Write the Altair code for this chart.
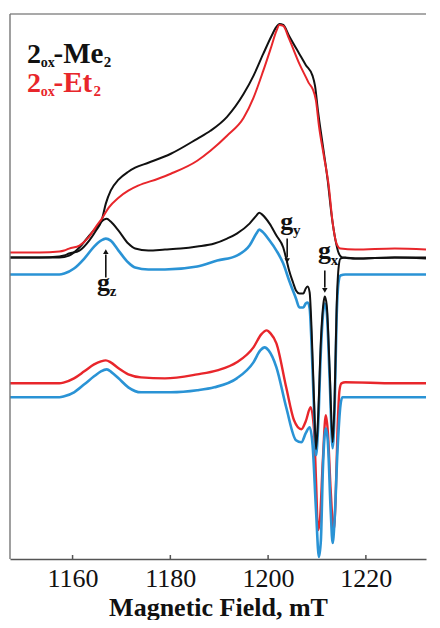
import altair as alt
import pandas as pd

X_DOMAIN = [1147.2, 1232.3]
Y_DOMAIN = [0, 546]
X_TICKS = [1160, 1180, 1200, 1220]

# --- 2ox-Me2 absorption (black, top)
me2_abs_x = [1147.2, 1153.3, 1157.3, 1158.3, 1159.3, 1161.4, 1163.4, 1164.8, 1166.0, 1166.8,
             1167.8, 1169.4, 1171.4, 1172.8, 1175.5, 1180.1, 1185.5, 1188.2, 1191.6, 1195.0,
             1197.0, 1199.0, 1200.7, 1201.7, 1202.3, 1203.1, 1204.3, 1206.4, 1207.7, 1209.1,
             1209.6, 1210.2, 1211.2, 1212.2, 1213.0, 1213.8, 1214.4, 1215.2, 1217.8, 1225.9, 1232.3]
me2_abs_y = [302, 302, 303, 304, 306, 309, 319, 329, 340, 356,
             369, 380, 388, 392, 397, 406, 421, 429, 443, 466,
             484, 506, 524, 533, 536, 535, 524, 506, 495, 484,
             474, 449, 414, 379, 344, 319, 307, 302, 301, 302, 301]

# --- 2ox-Et2 absorption (red, top)
et2_abs_x = [1147.2, 1153.3, 1157.3, 1158.3, 1159.3, 1161.4, 1163.4, 1164.8, 1166.0, 1167.4,
             1169.4, 1171.4, 1173.4, 1177.5, 1180.1, 1185.5, 1188.2, 1191.6, 1195.0, 1197.0,
             1199.0, 1200.7, 1201.7, 1202.3, 1203.1, 1204.3, 1206.4, 1207.7, 1208.3, 1209.1,
             1209.8, 1210.4, 1211.4, 1212.4, 1213.2, 1214.0, 1214.8, 1217.8, 1225.9, 1232.3]
et2_abs_y = [307, 307, 308, 309, 311, 314, 323, 333, 341, 352,
             362, 369, 374, 381, 386, 399, 409, 424, 442, 462,
             489, 514, 529, 535, 534, 521, 496, 483, 477, 471,
             459, 434, 404, 374, 337, 316, 311, 310, 311, 310]

# --- 2ox-Me2 experimental derivative-like spectrum (black, middle)
me2_exp_x = [1147.2, 1153.3, 1157.3, 1159.3, 1161.4, 1163.4, 1165.4, 1166.4, 1167.0, 1167.8,
             1169.4, 1171.4, 1172.8, 1175.5, 1178.9, 1182.1, 1185.5, 1189.0, 1191.6, 1193.6,
             1196.2, 1197.6, 1198.2, 1198.8, 1200.3, 1201.7, 1203.1, 1203.7, 1204.3, 1205.1,
             1205.7, 1206.4, 1207.2, 1207.7, 1208.1, 1208.5, 1208.9, 1209.4, 1209.8, 1210.2,
             1210.8, 1211.4, 1211.6, 1212.0, 1212.6, 1213.2, 1213.6, 1214.0, 1214.4, 1214.8,
             1215.8, 1217.8, 1225.9, 1232.3]
me2_exp_y = [302, 302, 302, 304, 312, 324, 335, 340, 341, 338,
             329, 316, 311, 309, 310, 311, 313, 316, 321, 326,
             336, 344, 347, 345, 336, 324, 312, 301, 289, 277,
             269, 266, 266, 271, 273, 267, 229, 159, 110, 139,
             219, 259, 263, 254, 189, 117, 159, 249, 291, 301,
             302, 301, 302, 302]

# --- 2ox-Me2 simulation (blue, middle)
me2_sim_x = [1147.2, 1157.3, 1158.3, 1160.3, 1162.4, 1164.4, 1165.8, 1166.8, 1167.8, 1169.4,
             1171.4, 1172.8, 1175.5, 1178.9, 1185.5, 1189.6, 1193.6, 1196.2, 1197.6, 1198.2,
             1198.8, 1200.3, 1201.7, 1203.1, 1204.3, 1205.7, 1206.4, 1207.2, 1207.7, 1208.1,
             1208.5, 1208.9, 1209.4, 1209.8, 1210.2, 1210.8, 1211.4, 1211.6, 1212.0, 1212.6,
             1213.2, 1213.6, 1214.0, 1214.4, 1214.8, 1215.8, 1232.3]
me2_sim_y = [285, 285, 286, 291, 301, 313, 319, 321, 319, 309,
             297, 292, 290, 290, 293, 299, 304, 314, 326, 330,
             328, 319, 309, 296, 279, 261, 252, 252, 256, 257,
             251, 214, 149, 104, 129, 209, 253, 256, 247, 179,
             111, 149, 239, 277, 284, 285, 285]

# --- 2ox-Et2 experimental (red, bottom)
et2_exp_x = [1147.2, 1157.3, 1158.3, 1160.3, 1162.4, 1164.4, 1165.8, 1166.8, 1167.8, 1169.4,
             1171.4, 1174.0, 1178.9, 1185.5, 1189.6, 1193.6, 1197.0, 1198.6, 1199.7, 1200.5,
             1201.7, 1203.7, 1205.3, 1206.8, 1207.7, 1208.7, 1209.4, 1209.8, 1210.2, 1210.6,
             1211.2, 1211.8, 1212.2, 1212.8, 1213.4, 1213.8, 1214.2, 1214.6, 1215.0, 1215.8,
             1225.9, 1232.3]
et2_exp_y = [176, 176, 177, 181, 188, 195, 198, 199, 197, 191,
             185, 182, 181, 185, 189, 197, 212, 225, 229, 226,
             216, 172, 139, 130, 138, 152, 129, 79, 29, 39,
             99, 144, 129, 69, 29, 59, 129, 169, 176, 177,
             176, 176]

# --- 2ox-Et2 simulation (blue, bottom)
et2_sim_x = [1147.2, 1157.3, 1158.3, 1160.3, 1162.4, 1164.4, 1165.8, 1167.0, 1168.0, 1169.4,
             1171.4, 1174.0, 1180.1, 1185.5, 1189.0, 1193.6, 1197.0, 1198.4, 1199.3, 1200.1,
             1201.7, 1203.7, 1205.7, 1206.8, 1207.7, 1208.5, 1209.1, 1209.8, 1210.4, 1210.8,
             1211.2, 1211.8, 1212.2, 1212.8, 1213.2, 1213.6, 1214.2, 1214.8, 1215.2, 1215.8,
             1232.3]
et2_sim_y = [162, 162, 163, 167, 175, 183, 188, 190, 187, 181,
             172, 167, 167, 169, 172, 181, 197, 209, 212, 209,
             192, 152, 119, 117, 126, 132, 114, 49, 2, 19,
             89, 131, 119, 49, 16, 39, 109, 154, 162, 162,
             162]

# --- legend-like labels
leg_text = ["2", "ox", "-Me", "2", "2", "ox", "-Et", "2"]
leg_x = [1150.7, 1153.5, 1156.1, 1166.4, 1150.7, 1153.5, 1156.1, 1164.3]
leg_y = [497, 493, 497, 493, 468, 464, 468, 464]
leg_size = [28, 14, 29, 15, 28, 14, 29, 15]
leg_color = ["#111111"] * 4 + ["#e8262b"] * 4

# --- g-value labels and arrows
g_text = ["g", "z", "g", "y", "g", "x"]
g_x = [1165.0, 1167.6, 1202.5, 1205.1, 1210.2, 1212.8]
g_y = [268, 263, 330, 325, 301, 295]
g_size = [26, 15, 26, 15, 26, 15]

arrow_x = [1166.8, 1203.9, 1211.6]
arrow_y = [282, 321, 289]
arrow_y2 = [305, 302, 272]
head_y = [308, 299, 269]
head_shape = ["triangle-up", "triangle-down", "triangle-down"]

RED = "#e8262b"
BLUE = "#2a93d5"
BLACK = "#111111"
FONT = "Liberation Serif"

series = [
    ("Et2 exp", et2_exp_x, et2_exp_y, RED, 2.4),
    ("Et2 sim", et2_sim_x, et2_sim_y, BLUE, 2.6),
    ("Me2 sim", me2_sim_x, me2_sim_y, BLUE, 2.6),
    ("Me2 exp", me2_exp_x, me2_exp_y, BLACK, 2.0),
    ("Me2 abs", me2_abs_x, me2_abs_y, BLACK, 2.0),
    ("Et2 abs", et2_abs_x, et2_abs_y, RED, 2.0),
]

x_enc = alt.X(
    "field:Q",
    scale=alt.Scale(domain=X_DOMAIN, nice=False, zero=False),
    axis=alt.Axis(
        values=X_TICKS, format="d", ticks=False, tickSize=0, grid=False,
        labelFont=FONT, labelFontSize=26, labelColor="#111111", labelPadding=6,
        domainColor="#555555", domainWidth=1.6,
        title="Magnetic Field, mT", titleFont=FONT, titleFontSize=26,
        titleFontWeight="bold", titleColor="#111111", titlePadding=3,
    ),
)
y_enc = alt.Y(
    "signal:Q",
    scale=alt.Scale(domain=Y_DOMAIN, nice=False, zero=False),
    axis=None,
)

layers = []
for name, xs, ys, col, sw in series:
    df = pd.DataFrame({"field": xs, "signal": ys, "series": name})
    layers.append(
        alt.Chart(df).mark_line(color=col, strokeWidth=sw, interpolate="monotone")
        .encode(x=x_enc, y=y_enc)
    )

# inward ticks on the field axis
tick_df = pd.DataFrame({"field": X_TICKS, "signal": [0] * 4, "signal2": [4] * 4})
layers.append(
    alt.Chart(tick_df).mark_rule(color="#555555", strokeWidth=1.5)
    .encode(x=x_enc, y=y_enc, y2="signal2:Q")
)

# frame lines: top and left
top_df = pd.DataFrame({"field": [X_DOMAIN[0]], "field2": [X_DOMAIN[1]], "signal": [Y_DOMAIN[1]]})
layers.append(
    alt.Chart(top_df).mark_rule(color="#555555", strokeWidth=1.2)
    .encode(x=x_enc, x2="field2:Q", y=y_enc)
)
left_df = pd.DataFrame({"field": [X_DOMAIN[0]], "signal": [Y_DOMAIN[0]], "signal2": [Y_DOMAIN[1]]})
layers.append(
    alt.Chart(left_df).mark_rule(color="#777777", strokeWidth=1.4)
    .encode(x=x_enc, y=y_enc, y2="signal2:Q")
)

# arrows
arr_df = pd.DataFrame({"field": arrow_x, "signal": arrow_y, "signal2": arrow_y2})
layers.append(
    alt.Chart(arr_df).mark_rule(color=BLACK, strokeWidth=1.6)
    .encode(x=x_enc, y=y_enc, y2="signal2:Q")
)
head_df = pd.DataFrame({"field": arrow_x, "signal": head_y, "shape": head_shape})
layers.append(
    alt.Chart(head_df).mark_point(filled=True, color=BLACK, size=30, opacity=1)
    .encode(x=x_enc, y=y_enc, shape=alt.Shape("shape:N", scale=None))
)

# g labels
g_df = pd.DataFrame({"field": g_x, "signal": g_y, "label": g_text, "fs": g_size})
layers.append(
    alt.Chart(g_df).mark_text(font=FONT, fontWeight="bold", align="left",
                              baseline="alphabetic", color=BLACK)
    .encode(x=x_enc, y=y_enc, text="label:N", size=alt.Size("fs:Q", scale=None))
)

# legend labels
leg_df = pd.DataFrame({"field": leg_x, "signal": leg_y, "label": leg_text,
                       "fs": leg_size, "col": leg_color})
layers.append(
    alt.Chart(leg_df).mark_text(font=FONT, fontWeight="bold", align="left",
                                baseline="alphabetic")
    .encode(x=x_enc, y=y_enc, text="label:N", size=alt.Size("fs:Q", scale=None),
            color=alt.Color("col:N", scale=None))
)

chart = (
    alt.layer(*layers)
    .properties(width=424, height=612,
                padding={"left": -4, "top": 5, "right": 0, "bottom": 0},
                autosize=alt.AutoSizeParams(type="fit", contains="padding"))
    .configure(font=FONT)
    .configure_view(strokeWidth=0)
)

chart.save("out.html", embed_options={"renderer": "svg", "actions": False})
